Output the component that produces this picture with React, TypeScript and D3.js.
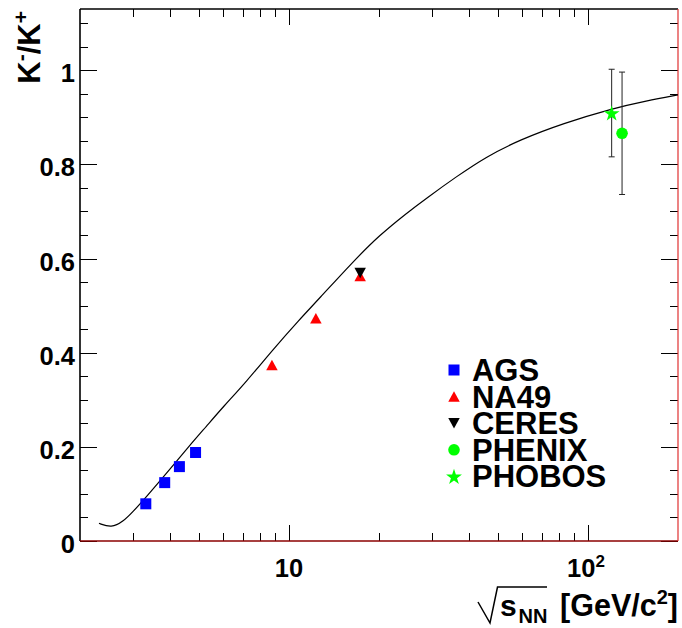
import React from "react";
import * as d3 from "d3";

// ---- data ----
const agsX = [3.32, 3.84, 4.3, 4.87];
const agsY = [0.079, 0.124, 0.158, 0.188];
const na49X = [8.77, 12.3, 17.3];
const na49Y = [0.374, 0.473, 0.563];
const ceresX = [17.3];
const ceresY = [0.569];
const phenixX = [130];
const phenixY = [0.866];
const phenixErr = [0.13];
const phobosX = [120];
const phobosY = [0.909];
const phobosErr = [0.093];

const curveX = [2.315, 2.547, 2.785, 3.008, 3.336, 3.89, 4.655, 5.292, 6.016, 7.2, 8.84, 10.86, 12.5, 16.37, 20.11, 24.7, 28.8, 36.3, 45.7, 59.1, 82.5, 121.2, 156.8, 200];
const curveY = [0.0376, 0.0276, 0.041, 0.0622, 0.0941, 0.1438, 0.203, 0.2435, 0.2846, 0.3384, 0.4068, 0.471, 0.512, 0.5934, 0.65, 0.696, 0.728, 0.774, 0.8165, 0.852, 0.887, 0.919, 0.935, 0.9475];

const xDomain = [2, 200];
const yDomain = [0, 1.13];
const yMajorTicks = [0, 0.2, 0.4, 0.6, 0.8, 1];
const yTickLabels = ["0", "0.2", "0.4", "0.6", "0.8", "1"];
const xMajorTicks = [10, 100];
const legendNames = ["AGS", "NA49", "CERES", "PHENIX", "PHOBOS"];

const W = 682, H = 628;
const L = 80, R = 678, T = 9, B = 541;
const FONT = "'Liberation Sans', Arial, Helvetica, sans-serif";

const x = d3.scaleLog().domain(xDomain).range([L, R]);
const y = d3.scaleLinear().domain(yDomain).range([B, T]);

const BLUE = "#0000ff", RED = "#ff0000", GREEN = "#00ff00", BLACK = "#000000";

function Marker({ kind, cx, cy }: { kind: string; cx: number; cy: number }) {
  if (kind === "square") return <rect x={cx - 5.5} y={cy - 5.5} width={11} height={11} fill={BLUE} />;
  if (kind === "tri") {
    const w = 11.5, h = 10.5;
    return <path d={`M${cx},${cy - h / 2}L${cx + w / 2},${cy + h / 2}L${cx - w / 2},${cy + h / 2}Z`} fill={RED} />;
  }
  if (kind === "itri") {
    const w = 11.5, h = 10.5;
    return <path d={`M${cx},${cy + h / 2}L${cx + w / 2},${cy - h / 2}L${cx - w / 2},${cy - h / 2}Z`} fill={BLACK} />;
  }
  if (kind === "circle") return <circle cx={cx} cy={cy} r={5.8} fill={GREEN} />;
  const star = d3.symbol(d3.symbolStar, 78)() as string;
  return <path d={star} transform={`translate(${cx},${cy + 0.8})`} fill={GREEN} />;
}

export default function App() {
  const yTicksAll = d3.range(0, 1.1001, 0.05).map((v) => +v.toFixed(2));
  const xTicksAll: number[] = [];
  [1, 10, 100].forEach((dec) => {
    for (let k = 1; k <= 9; k++) {
      const v = k * dec;
      if (v > xDomain[0] && v < xDomain[1]) xTicksAll.push(v);
    }
  });
  const isMajorY = (v: number) => yMajorTicks.some((m) => Math.abs(m - v) < 1e-6);
  const isMajorX = (v: number) => xMajorTicks.includes(v);

  const line = d3
    .line<number>()
    .x((_, i) => x(curveX[i]))
    .y((d) => y(d))
    .curve(d3.curveBasis);

  const errBar = (xv: number, yv: number, e: number, key: string) => {
    const px = x(xv);
    return (
      <g key={key} stroke="#222" strokeWidth={1}>
        <line x1={px} x2={px} y1={y(yv + e)} y2={y(yv - e)} />
        <line x1={px - 3} x2={px + 3} y1={y(yv + e)} y2={y(yv + e)} />
        <line x1={px - 3} x2={px + 3} y1={y(yv - e)} y2={y(yv - e)} />
      </g>
    );
  };

  const legendKinds = ["square", "tri", "itri", "circle", "star"];
  const legY0 = 370, legDy = 26.6;

  return (
    <svg width={W} height={H} style={{ position: "absolute", left: 0, top: 0, background: "#fff" }} fontFamily={FONT}>
      <rect x={0} y={0} width={W} height={H} fill="#fff" />
      {/* frame */}
      <line x1={L} x2={L} y1={T} y2={B} stroke="#000" strokeWidth={1.6} />
      <line x1={L} x2={R} y1={T} y2={T} stroke="#000" strokeWidth={1.3} />
      {/* y ticks left & right */}
      {yTicksAll.map((v) => {
        const len = isMajorY(v) ? 17 : 8;
        const py = Math.round(y(v)) + 0.5;
        return (
          <g key={"yt" + v} stroke="#000" strokeWidth={1}>
            <line x1={L} x2={L + len} y1={py} y2={py} />
            <line x1={R - len} x2={R} y1={py} y2={py} />
          </g>
        );
      })}
      {/* x ticks bottom & top */}
      {xTicksAll.map((v) => {
        const len = isMajorX(v) ? 16 : 8;
        const px = Math.round(x(v)) + 0.5;
        return (
          <g key={"xt" + v} stroke="#000" strokeWidth={1}>
            <line x1={px} x2={px} y1={B} y2={B - len} />
            <line x1={px} x2={px} y1={T} y2={T + len} />
          </g>
        );
      })}
      <line x1={L} x2={R} y1={B} y2={B} stroke="#8b0000" strokeWidth={1.6} />
      <line x1={R} x2={R} y1={T} y2={B} stroke="#e03030" strokeWidth={1.2} />

      {/* y tick labels */}
      {yMajorTicks.map((v, i) => (
        <text key={"yl" + v} x={75} y={y(v) + 12} textAnchor="end" fontSize={25.5} fontWeight="bold">
          {yTickLabels[i]}
        </text>
      ))}
      {/* x tick labels */}
      <text x={x(10)} y={577} textAnchor="middle" fontSize={25.5} fontWeight="bold">10</text>
      <text x={x(100) - 2} y={577} textAnchor="middle" fontSize={25.5} fontWeight="bold">
        10<tspan fontSize={17} dy={-10}>2</tspan>
      </text>

      {/* x title */}
      <path d="M478,602 L490,623 L497.5,587 L547,587" fill="none" stroke="#000" strokeWidth={1.5} />
      <text x={500} y={616} fontSize={30} fontWeight="bold">s</text>
      <text x={518.5} y={623} fontSize={20} fontWeight="bold">NN</text>
      <text x={678} y={616} textAnchor="end" fontSize={30.5} fontWeight="bold">
        [GeV/c<tspan fontSize={20} dy={-12}>2</tspan><tspan dy={12}>]</tspan>
      </text>

      {/* y title */}
      <text transform="translate(40,11) rotate(-90)" textAnchor="end" fontSize={31} fontWeight="bold">
        K<tspan fontSize={21} dy={-12}>-</tspan><tspan dy={12}>/K</tspan><tspan fontSize={21} dy={-12}>+</tspan>
      </text>

      {/* curve */}
      <path d={line(curveY) as string} fill="none" stroke="#000" strokeWidth={1.2} />

      {/* error bars */}
      {phobosX.map((xv, i) => errBar(xv, phobosY[i], phobosErr[i], "pbe" + i))}
      {phenixX.map((xv, i) => errBar(xv, phenixY[i], phenixErr[i], "phe" + i))}

      {/* markers */}
      {agsX.map((xv, i) => <Marker key={"a" + i} kind="square" cx={x(xv)} cy={y(agsY[i])} />)}
      {na49X.map((xv, i) => <Marker key={"n" + i} kind="tri" cx={x(xv)} cy={y(na49Y[i])} />)}
      {ceresX.map((xv, i) => <Marker key={"c" + i} kind="itri" cx={x(xv)} cy={y(ceresY[i])} />)}
      {phenixX.map((xv, i) => <Marker key={"p" + i} kind="circle" cx={x(xv)} cy={y(phenixY[i])} />)}
      {phobosX.map((xv, i) => <Marker key={"s" + i} kind="star" cx={x(xv)} cy={y(phobosY[i])} />)}

      {/* legend */}
      {legendNames.map((name, i) => {
        const cy = legY0 + i * legDy;
        return (
          <g key={"lg" + name}>
            <Marker kind={legendKinds[i]} cx={454} cy={cy} />
            <text x={472} y={cy + 11} fontSize={31} fontWeight="bold" transform={`translate(0,${cy + 11}) scale(1,1.04) translate(0,${-(cy + 11)})`}>{name}</text>
          </g>
        );
      })}
    </svg>
  );
}
